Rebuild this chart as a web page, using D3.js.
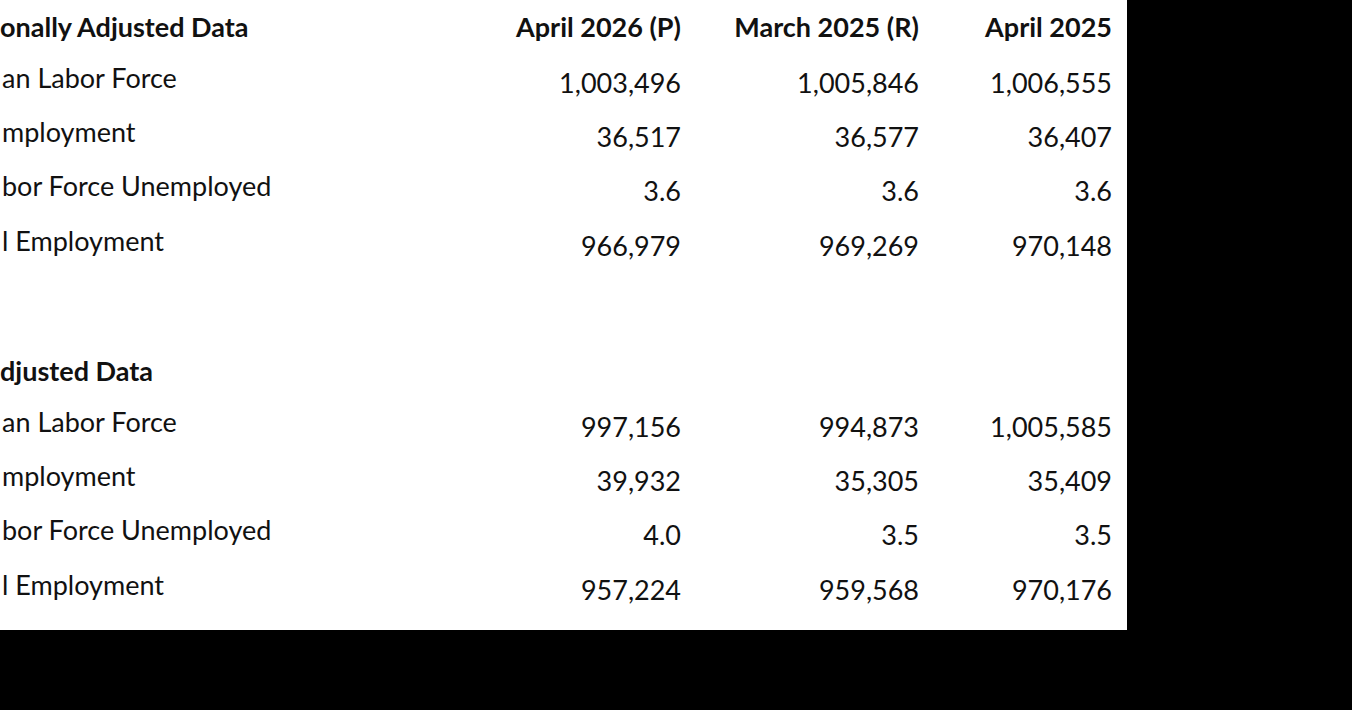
<!doctype html>
<html>
<head>
<script src="https://cdnjs.cloudflare.com/ajax/libs/d3/7.8.5/d3.min.js"></script>
<style>
body { margin:0; background:#000; }
text { font-family: Lato, "Open Sans", sans-serif; fill:#111; }
</style>
</head>
<body>
<script>
var columns = ["April 2026 (P)", "March 2025 (R)", "April 2025"];
var sections = ["onally Adjusted Data", "djusted Data"];
var rowLabels = ["an Labor Force", "mployment", "bor Force Unemployed", "l Employment"];
var seasonal = [
  ["1,003,496", "1,005,846", "1,006,555"],
  ["36,517", "36,577", "36,407"],
  ["3.6", "3.6", "3.6"],
  ["966,979", "969,269", "970,148"]
];
var notSeasonal = [
  ["997,156", "994,873", "1,005,585"],
  ["39,932", "35,305", "35,409"],
  ["4.0", "3.5", "3.5"],
  ["957,224", "959,568", "970,176"]
];

var svg = d3.select("body").append("svg").attr("width", 1352).attr("height", 710);
svg.append("rect").attr("width", 1127).attr("height", 630).attr("fill", "#fff");

var colX = d3.scaleOrdinal().domain(columns).range([681, 919, 1112]);
var rowY = d3.scaleLinear().domain([0, 1]).range([0, 54.3]);

function block(title, values, top) {
  svg.append("text").attr("x", 0).attr("y", top).attr("font-size", 27)
    .attr("font-weight", "bold").attr("dy", "0.35em").text(title);
  rowLabels.forEach(function(l, i) {
    var y = top + rowY(i + 1) - 4;
    svg.append("text").attr("x", 2).attr("y", y).attr("font-size", 27)
      .attr("dy", "0.35em").text(l);
    values[i].forEach(function(v, j) {
      svg.append("text").attr("x", colX(columns[j])).attr("y", y + 5)
        .attr("font-size", 27).attr("text-anchor", "end").attr("dy", "0.35em").text(v);
    });
  });
}

columns.forEach(function(c) {
  svg.append("text").attr("x", colX(c)).attr("y", 28).attr("font-size", 27)
    .attr("font-weight", "bold").attr("text-anchor", "end").attr("dy", "0.35em").text(c);
});
block(sections[0], seasonal, 28);
block(sections[1], notSeasonal, 372);
</script>
</body>
</html>
